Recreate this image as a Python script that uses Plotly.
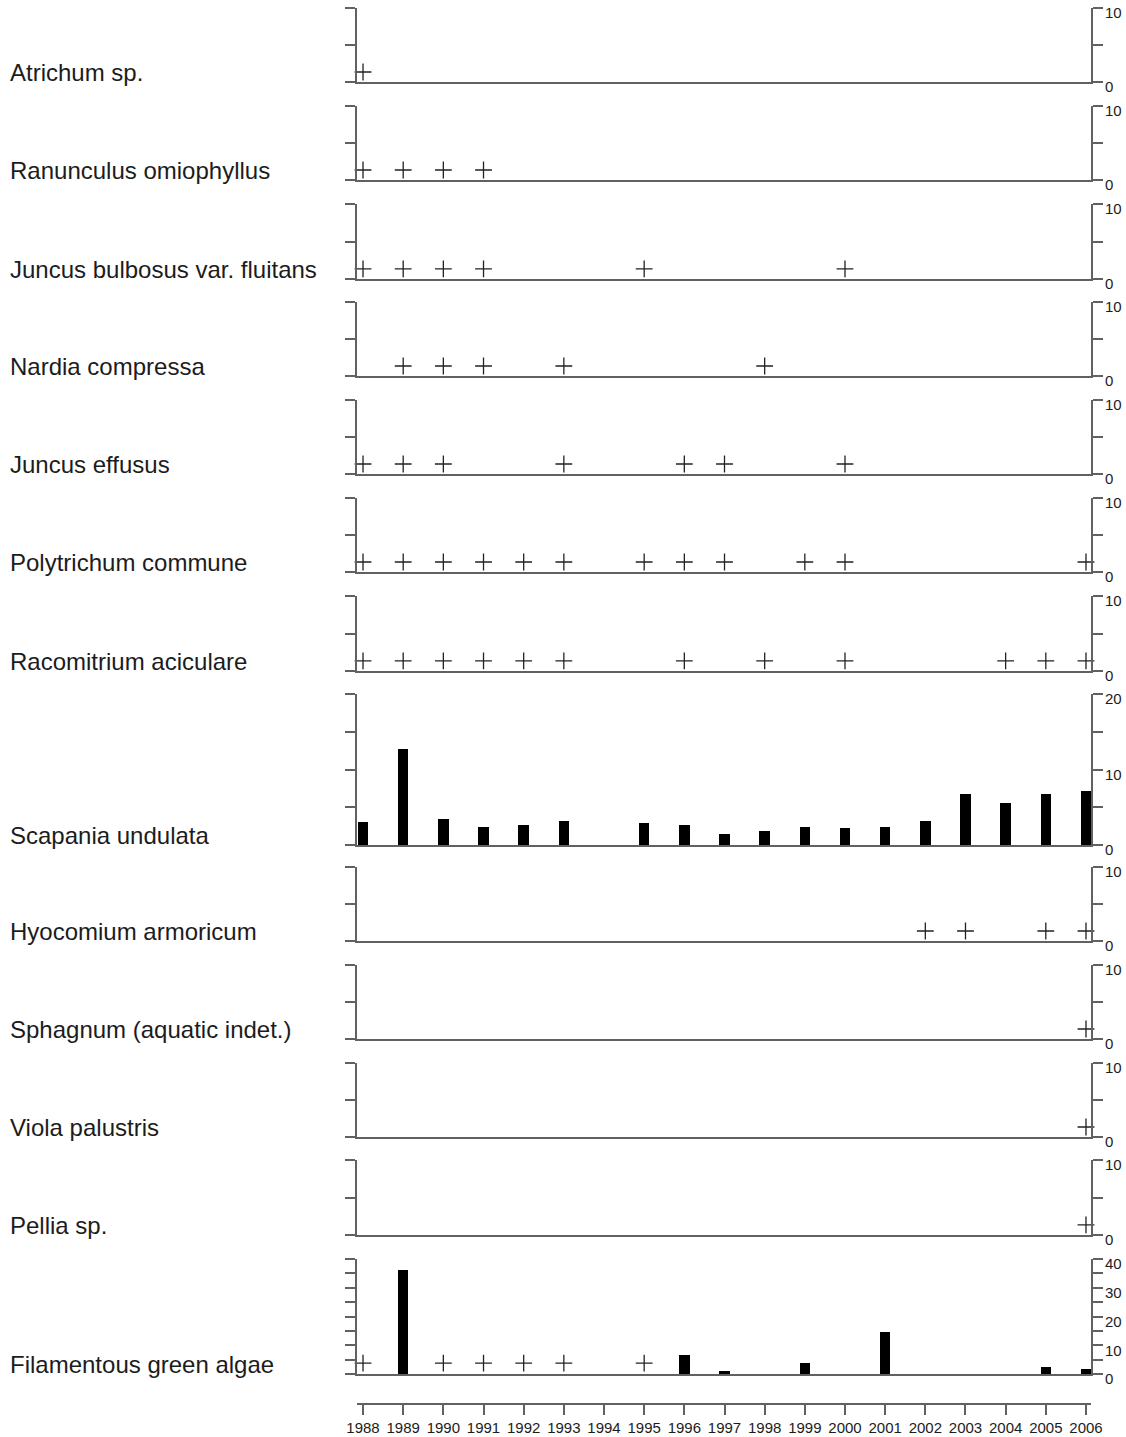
import plotly.graph_objects as go

# ---------------- data ----------------
years = list(range(1988, 2007))
year_labels = [str(y) for y in years]

species = [
    "Atrichum sp.",
    "Ranunculus omiophyllus",
    "Juncus bulbosus var. fluitans",
    "Nardia compressa",
    "Juncus effusus",
    "Polytrichum commune",
    "Racomitrium aciculare",
    "Scapania undulata",
    "Hyocomium armoricum",
    "Sphagnum (aquatic indet.)",
    "Viola palustris",
    "Pellia sp.",
    "Filamentous green algae",
]

# years where species recorded as present (+)
present_atrichum = [1988]
present_ranunculus = [1988, 1989, 1990, 1991]
present_juncus_bulb = [1988, 1989, 1990, 1991, 1995, 2000]
present_nardia = [1989, 1990, 1991, 1993, 1998]
present_juncus_eff = [1988, 1989, 1990, 1993, 1996, 1997, 2000]
present_polytrichum = [1988, 1989, 1990, 1991, 1992, 1993, 1995, 1996, 1997, 1999, 2000, 2006]
present_racomitrium = [1988, 1989, 1990, 1991, 1992, 1993, 1996, 1998, 2000, 2004, 2005, 2006]
present_scapania = []
present_hyocomium = [2002, 2003, 2005, 2006]
present_sphagnum = [2006]
present_viola = [2006]
present_pellia = [2006]
present_algae = [1988, 1990, 1991, 1992, 1993, 1995]

# cover values (bars)
scapania_years = [1988, 1989, 1990, 1991, 1992, 1993, 1995, 1996, 1997, 1998,
                  1999, 2000, 2001, 2002, 2003, 2004, 2005, 2006]
scapania_values = [3.0, 12.7, 3.5, 2.4, 2.7, 3.2, 2.9, 2.65, 1.4, 1.8,
                   2.4, 2.2, 2.4, 3.2, 6.7, 5.6, 6.7, 7.2]
algae_years = [1989, 1996, 1997, 1999, 2001, 2005, 2006]
algae_values = [36.2, 6.5, 0.9, 3.9, 14.5, 2.4, 1.7]

presence = [present_atrichum, present_ranunculus, present_juncus_bulb, present_nardia,
            present_juncus_eff, present_polytrichum, present_racomitrium, present_scapania,
            present_hyocomium, present_sphagnum, present_viola, present_pellia, present_algae]
bars = {7: (scapania_years, scapania_values), 12: (algae_years, algae_values)}
y_max = [10, 10, 10, 10, 10, 10, 10, 20, 10, 10, 10, 10, 40]

# ---------------- layout geometry ----------------
W, H = 1126, 1437
ML, MR, MT, MB = 357, 35, 0, 34
plot_h = H - MT - MB
# panel (top, baseline) in pixels
panel_px = [(8, 82), (106, 180), (204, 279), (302, 376), (400, 474), (498, 572),
            (596, 671), (694, 845), (867, 941), (965, 1039), (1063, 1137),
            (1160, 1235), (1259, 1374)]


def to_paper(p):
    return (H - MB - p) / plot_h


xr = [1987.85, 2006.125]
axis_col = "#616161"
txt_col = "#1c1c1c"

fig = go.Figure()
layout = dict(
    width=W, height=H,
    margin=dict(l=ML, r=MR, t=MT, b=MB, autoexpand=False),
    paper_bgcolor="white", plot_bgcolor="white",
    showlegend=False,
    bargap=0,
)
annotations = []

for i in range(13):
    n = i + 1
    xa = "x" if n == 1 else f"x{n}"
    ya = "y" if n == 1 else f"y{n}"
    ymax = y_max[i]
    if i in bars:
        bx, bv = bars[i]
        fig.add_trace(go.Bar(x=bx, y=bv, width=0.26, marker=dict(color="black", line=dict(width=0)),
                             xaxis=xa, yaxis=ya, hoverinfo="x+y"))
    pres = presence[i]
    if pres:
        fig.add_trace(go.Scatter(
            x=pres, y=[ymax * (1.35 / 10 if ymax == 10 else 0.095)] * len(pres),
            mode="markers", cliponaxis=False,
            marker=dict(symbol="cross-thin", size=12, line=dict(width=1.3, color="#222")),
            xaxis=xa, yaxis=ya, hoverinfo="x"))
    top, bot = panel_px[i]
    step = 5
    tv = list(range(0, ymax + 1, step))
    tt = [str(v) if v % 10 == 0 else "" for v in tv]
    layout["xaxis" if n == 1 else f"xaxis{n}"] = dict(
        domain=[0, 1], range=xr, anchor=ya, showline=True, linecolor=axis_col, linewidth=2,
        ticks="", showticklabels=False, showgrid=False, zeroline=False, fixedrange=True,
        automargin=False)
    layout["yaxis" if n == 1 else f"yaxis{n}"] = dict(
        domain=[to_paper(bot), to_paper(top)], range=[0, ymax], anchor=xa,
        side="right", mirror="ticks", showline=True, linecolor=axis_col, linewidth=2,
        ticks="outside", ticklen=10, tickwidth=2, tickcolor=axis_col,
        tickvals=tv, ticktext=tt, ticklabelshift=5, ticklabelstandoff=-1,
        ticklabeloverflow="allow",
        tickfont=dict(family="Liberation Sans, Arial", size=15, color=txt_col),
        showgrid=False, zeroline=False, fixedrange=True, automargin=False)
    annotations.append(dict(
        text=species[i], xref="paper", x=(8 - ML) / (W - ML - MR), xanchor="left",
        yref=ya, y=0, yanchor="bottom", yshift=-6, showarrow=False,
        font=dict(family="Liberation Sans, Arial", size=24, color=txt_col)))

# bottom year axis (own subplot, carries an empty trace so it is drawn)
fig.add_trace(go.Scatter(x=years, y=[None] * len(years), mode="markers",
                         xaxis="x14", yaxis="y14", hoverinfo="skip"))
layout["xaxis14"] = dict(
    domain=[0, 1], range=xr, anchor="y14", showline=True, linecolor=axis_col, linewidth=2,
    ticks="outside", ticklen=10, tickwidth=2, tickcolor=axis_col,
    tickvals=years, ticktext=year_labels,
    tickfont=dict(family="Liberation Sans, Arial", size=15, color=txt_col),
    showgrid=False, zeroline=False, fixedrange=True, automargin=False)
layout["yaxis14"] = dict(domain=[0, 0.01], range=[0, 1], anchor="x14", showline=False,
                         showticklabels=False, ticks="", showgrid=False, zeroline=False,
                         fixedrange=True, automargin=False)
layout["annotations"] = annotations

fig.update_layout(**layout)
fig.write_html("out.html", config={"displayModeBar": False},
               post_script="document.body.style.margin='0';")
